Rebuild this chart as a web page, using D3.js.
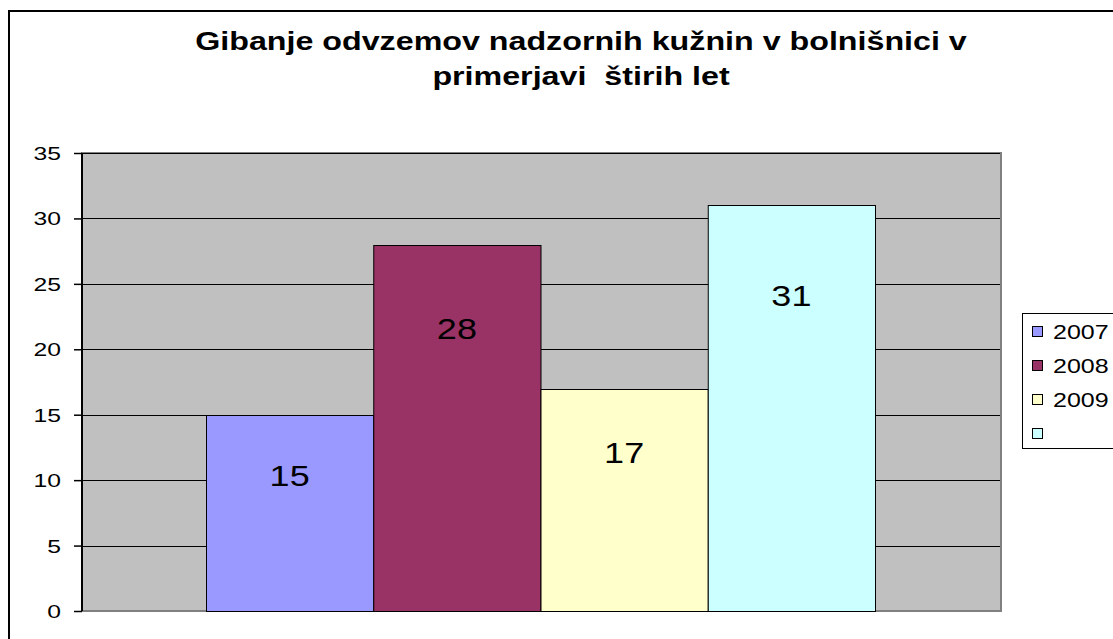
<!DOCTYPE html>
<html>
<head>
<meta charset="utf-8">
<script src="https://cdn.jsdelivr.net/npm/d3@7.9.0/dist/d3.min.js"></script>
<style>
  html, body { margin: 0; padding: 0; background: #fff; }
  svg { display: block; font-family: "Liberation Sans", Arial, sans-serif; }
  text { white-space: pre; }
</style>
</head>
<body>
<svg id="chart" width="1113" height="639"></svg>
<script>
// data
const titleLines = ['Gibanje odvzemov nadzornih kužnin v bolnišnici v', 'primerjavi  štirih let'];
const series   = ['2007', '2008', '2009', ''];
const values   = [15, 28, 17, 31];
const colors   = ['#9999FF', '#993366', '#FFFFCC', '#CCFFFF'];
const yTicks   = [0, 5, 10, 15, 20, 25, 30, 35];

const svg = d3.select('#chart');
const sx = 1.25; // text in the picture is stretched horizontally

// outer chart frame
svg.append('rect')
  .attr('x', 9).attr('y', 11)
  .attr('width', 1300).attr('height', 800)
  .attr('fill', '#fff').attr('stroke', '#000').attr('stroke-width', 2);

const plot = { left: 82, top: 153, right: 1001, bottom: 611 };

const y = d3.scaleLinear().domain([0, 35]).range([plot.bottom, plot.top]);
const x = d3.scaleBand().domain(series).range([206, 875]).padding(0);

// plot background
svg.append('rect')
  .attr('x', plot.left).attr('y', plot.top)
  .attr('width', plot.right - plot.left).attr('height', plot.bottom - plot.top)
  .attr('fill', '#C0C0C0').attr('stroke', '#808080').attr('stroke-width', 2);

// gridlines
svg.append('g')
  .selectAll('line')
  .data(yTicks.filter(d => d > 0))
  .join('line')
  .attr('x1', plot.left).attr('x2', plot.right - 1)
  .attr('y1', d => Math.round(y(d)) + 0.5).attr('y2', d => Math.round(y(d)) + 0.5)
  .attr('stroke', '#000').attr('stroke-width', 1);

// bars
svg.append('g')
  .selectAll('rect')
  .data(values)
  .join('rect')
  .attr('x', (d, i) => x(series[i]) + 0.5)
  .attr('y', d => Math.round(y(d)) + 0.5)
  .attr('width', x.bandwidth())
  .attr('height', d => Math.round(y(0)) - Math.round(y(d)))
  .attr('fill', (d, i) => colors[i])
  .attr('stroke', '#000').attr('stroke-width', 1);

// data labels
svg.append('g')
  .selectAll('text')
  .data(values)
  .join('text')
  .attr('transform', (d, i) => `translate(${x(series[i]) + x.bandwidth() / 2},${y(d * 0.86) + 33}) scale(1.2,1)`)
  .attr('text-anchor', 'middle')
  .attr('dominant-baseline', 'central')
  .attr('font-size', 30)
  .attr('fill', '#000')
  .text(d => d);

// y axis
const yAxis = svg.append('g')
  .attr('transform', `translate(${plot.left},0)`)
  .call(d3.axisLeft(y).tickValues(yTicks).tickSize(8).tickPadding(0).tickFormat(d3.format('d')));
yAxis.select('.domain').attr('stroke', '#000').attr('stroke-width', 2).attr('d', `M0,${plot.top}V${plot.bottom}`);
yAxis.selectAll('.tick line').attr('stroke', '#000').attr('stroke-width', 1.5);
yAxis.selectAll('.tick text')
  .attr('x', null).attr('dy', null)
  .attr('font-size', 19).attr('fill', '#000')
  .attr('text-anchor', 'end')
  .attr('dominant-baseline', 'central')
  .attr('transform', `translate(-21,0) scale(1.3,1)`);

// title
svg.append('g')
  .selectAll('text')
  .data(titleLines)
  .join('text')
  .attr('transform', (d, i) => `translate(581,${50 + i * 35}) scale(1.24,1)`)
  .attr('text-anchor', 'middle')
  .attr('font-size', 26)
  .attr('font-weight', 'bold')
  .attr('fill', '#000')
  .text(d => d);

// legend
const legend = svg.append('g');
legend.append('rect')
  .attr('x', 1022.5).attr('y', 313.5)
  .attr('width', 200).attr('height', 135)
  .attr('fill', '#fff').attr('stroke', '#000').attr('stroke-width', 1);
const item = legend.selectAll('g.item')
  .data(series)
  .join('g')
  .attr('class', 'item')
  .attr('transform', (d, i) => `translate(1032,${332 + i * 34})`);
item.append('rect')
  .attr('x', 0.5).attr('y', -5.5)
  .attr('width', 10).attr('height', 10)
  .attr('fill', (d, i) => colors[i])
  .attr('stroke', '#000').attr('stroke-width', 1);
item.append('text')
  .attr('transform', `translate(21,0) scale(${sx},1)`)
  .attr('dominant-baseline', 'central')
  .attr('font-size', 20)
  .attr('fill', '#000')
  .text(d => d);
</script>
</body>
</html>
